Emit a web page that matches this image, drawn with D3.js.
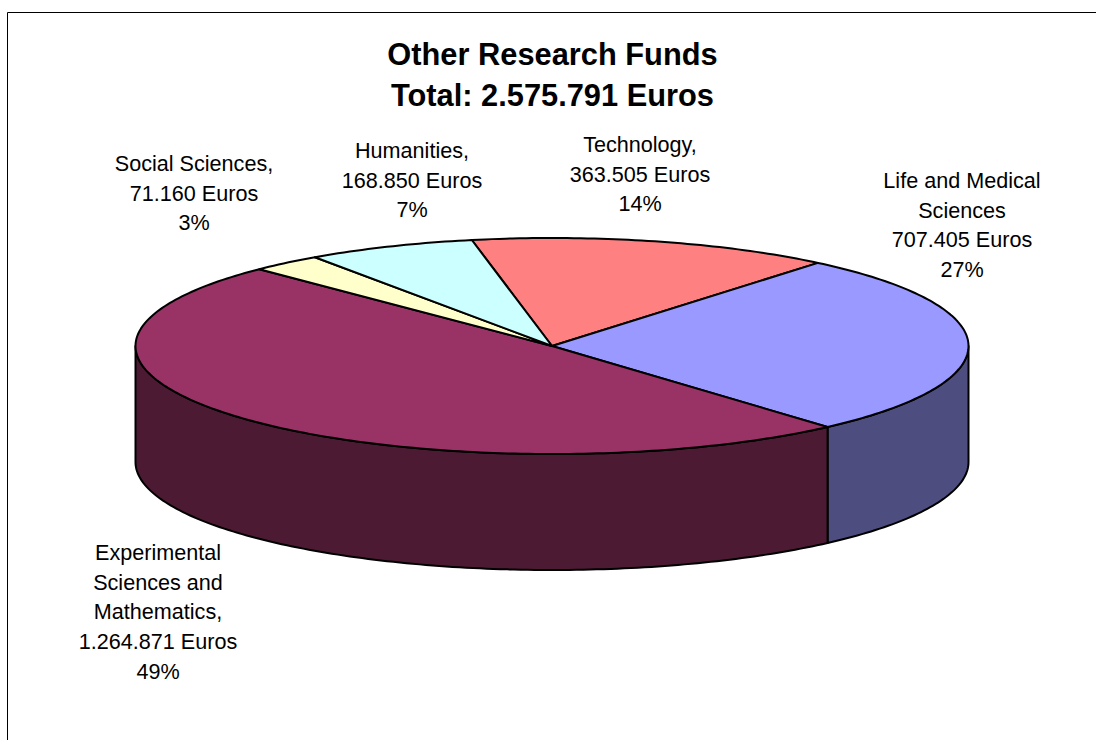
<!DOCTYPE html>
<html><head><meta charset="utf-8">
<script src="https://cdn.jsdelivr.net/npm/d3@7"></script>
<style>html,body{margin:0;padding:0;background:#fff}svg{display:block}text{font-family:"Liberation Sans",Arial,sans-serif;fill:#000}</style>
</head><body><svg id="c" width="1096" height="740"></svg>
<script>
const categories = ["Technology","Life and Medical Sciences","Experimental Sciences and Mathematics","Social Sciences","Humanities"];
const values = [363505,707405,1264871,71160,168850];
const percents = ["14%","27%","49%","3%","7%"];
const nameLines = [["Technology,"],["Life and Medical","Sciences"],["Experimental","Sciences and","Mathematics,"],["Social Sciences,"],["Humanities,"]];
const topColors = ["#ff8080","#9999ff","#993366","#ffffcc","#ccffff"];
const sideColors = ["#804040","#4d4d80","#4d1a33","#808066","#668080"];
const titleLines = ["Other Research Funds","Total: 2.575.791 Euros"];

const W=1096,H=740,cx=552,cy=346,rx=416.5,ry=108,depth=116;
const labelAnchors=[[640,152],[962,188],[158,560],[194,171],[412,158]];
const lineH=29.7;
const svg=d3.select("#c");
svg.append("path").attr("d",`M7.5 ${H}V12.5H${W}`).attr("fill","none").attr("stroke","#000").attr("stroke-width",1);

const t=svg.append("g").attr("text-anchor","middle").attr("font-weight","bold").attr("font-size",30.8);
titleLines.forEach((s,i)=>t.append("text").attr("x",552.5).attr("y",65+i*41).text(s));

const start=-11.1*Math.PI/180;
const arcs=d3.pie().sort(null).startAngle(start).endAngle(start+2*Math.PI)(values);
const px=a=>cx+rx*Math.sin(a), py=a=>cy-ry*Math.cos(a);
const line=d3.line();
const sample=(a0,a1,dy=0)=>{const n=Math.max(2,Math.ceil(Math.abs(a1-a0)*60));
  return d3.range(n+1).map(i=>{const a=a0+(a1-a0)*i/n;return [px(a),py(a)+dy];});};

const front0=Math.PI/2, front1=3*Math.PI/2;
const sides=svg.append("g");
arcs.forEach((d,i)=>{
  const a0=Math.max(d.startAngle,front0),a1=Math.min(d.endAngle,front1);
  if(a1<=a0) return;
  const pts=sample(a0,a1).concat(sample(a1,a0,depth));
  sides.append("path").attr("d",line(pts)+"Z").attr("fill",sideColors[i]).attr("stroke","#000").attr("stroke-width",2).attr("stroke-linejoin","round");
});
const tops=svg.append("g");
arcs.forEach((d,i)=>{
  const pts=[[cx,cy]].concat(sample(d.startAngle,d.endAngle));
  tops.append("path").attr("d",line(pts)+"Z").attr("fill",topColors[i]).attr("stroke","#000").attr("stroke-width",2).attr("stroke-linejoin","round");
});

const fmt=d3.formatLocale({decimal:",",thousands:".",grouping:[3],currency:["","€"]}).format(",d");
const lab=svg.append("g").attr("text-anchor","middle").attr("font-size",21.6);
categories.forEach((c,i)=>{
  const lines=nameLines[i].concat([fmt(values[i])+" Euros",percents[i]]);
  const [x,y]=labelAnchors[i];
  lines.forEach((s,j)=>lab.append("text").attr("x",x).attr("y",y+j*lineH).text(s));
});
</script></body></html>
